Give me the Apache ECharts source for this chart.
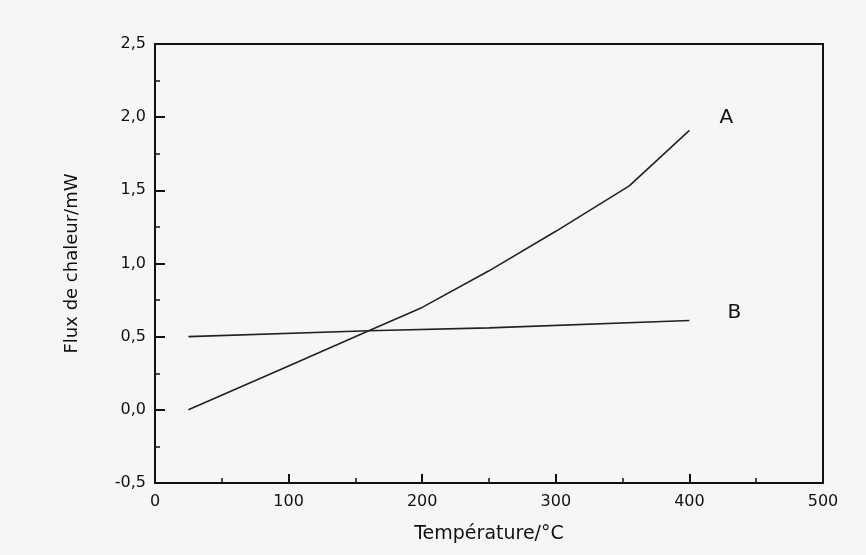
<!DOCTYPE html>
<html>
<head>
<meta charset="utf-8">
<script src="https://cdn.jsdelivr.net/npm/echarts@6/dist/echarts.min.js"></script>
<style>
html,body{margin:0;padding:0;background:#f6f6f5;}
#c{width:866px;height:555px;}
</style>
</head>
<body>
<div id="c"></div>
<script>
// Curve A
const tempA = [25, 100, 160, 200, 250, 300, 355, 400];
const fluxA = [0.00, 0.30, 0.54, 0.70, 0.95, 1.22, 1.53, 1.91];
// Curve B
const tempB = [25, 160, 250, 400];
const fluxB = [0.50, 0.54, 0.56, 0.61];
const seriesNames = ['A', 'B'];
const xTitle = 'Température/°C';
const yTitle = 'Flux de chaleur/mW';

const FONT = 'DejaVu Sans';
const chart = echarts.init(document.getElementById('c'));
const fmt = v => String(v.toFixed ? (Number.isInteger(v) ? v : v.toFixed(1)) : v).replace('.', ',');

chart.setOption({
  backgroundColor: '#f6f6f5',
  animation: false,
  grid: {left: 155, right: 43, top: 44, bottom: 72, show: true, borderColor: '#111', borderWidth: 2, backgroundColor: 'transparent'},
  xAxis: {
    type: 'value', min: 0, max: 500, interval: 100,
    name: xTitle, nameLocation: 'middle', nameGap: 42,
    nameTextStyle: {fontFamily: FONT, fontSize: 19, color: '#111'},
    axisLine: {show: true, onZero: false, lineStyle: {color: '#111', width: 2}},
    axisTick: {show: true, inside: true, length: 9, lineStyle: {color: '#111', width: 2}},
    minorTick: {show: true, splitNumber: 2, length: 5, lineStyle: {color: '#111', width: 1.5}},
    splitLine: {show: false},
    axisLabel: {fontFamily: FONT, fontSize: 16, color: '#111', margin: 11, formatter: v => String(v)}
  },
  yAxis: {
    type: 'value', min: -0.5, max: 2.5, interval: 0.5,
    name: yTitle, nameLocation: 'middle', nameGap: 74, nameRotate: 90,
    nameTextStyle: {fontFamily: FONT, fontSize: 18, color: '#111'},
    axisLine: {show: true, onZero: false, lineStyle: {color: '#111', width: 2}},
    axisTick: {show: true, inside: true, length: 10, lineStyle: {color: '#111', width: 2}},
    minorTick: {show: true, splitNumber: 2, length: 5, lineStyle: {color: '#111', width: 1.5}},
    splitLine: {show: false},
    axisLabel: {fontFamily: FONT, fontSize: 16, color: '#111', margin: 9, formatter: v => v.toFixed(1).replace('.', ',')}
  },
  series: [
    {
      name: seriesNames[0], type: 'line', showSymbol: false, symbol: 'none',
      data: tempA.map((t, i) => [t, fluxA[i]]),
      lineStyle: {color: '#222', width: 1.6},
      endLabel: {show: true, formatter: '{a}', fontFamily: FONT, fontSize: 20, color: '#111', offset: [22, -13]}
    },
    {
      name: seriesNames[1], type: 'line', showSymbol: false, symbol: 'none',
      data: tempB.map((t, i) => [t, fluxB[i]]),
      lineStyle: {color: '#222', width: 1.6},
      endLabel: {show: true, formatter: '{a}', fontFamily: FONT, fontSize: 20, color: '#111', offset: [30, -8]}
    }
  ]
});
</script>
</body>
</html>
